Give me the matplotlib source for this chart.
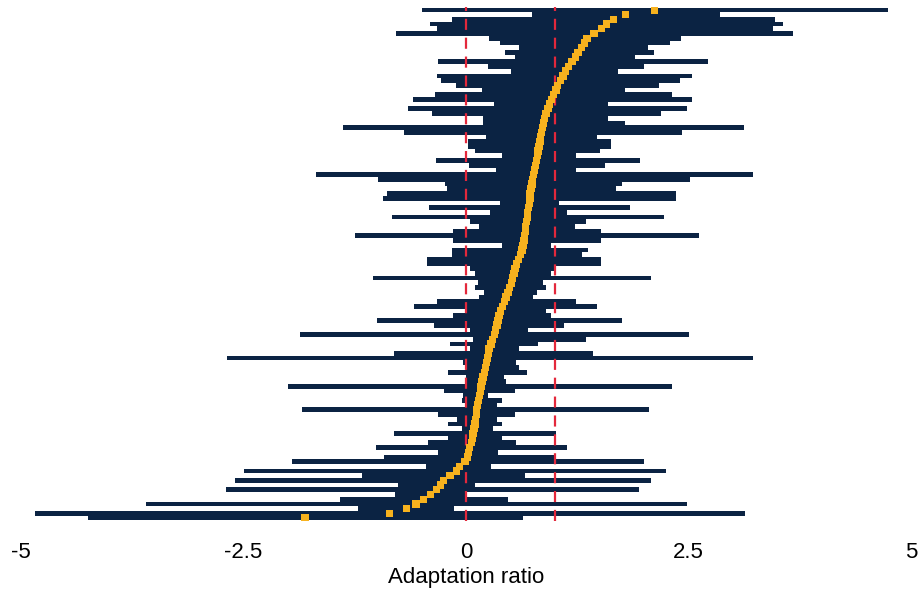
import matplotlib
matplotlib.use("Agg")
import matplotlib.pyplot as plt

plt.rcParams['font.family'] = ['Liberation Sans', 'DejaVu Sans']

# Rows ordered top -> bottom
estimate = [2.12, 1.79, 1.66, 1.58, 1.52, 1.44, 1.36, 1.33, 1.30, 1.26,
            1.23, 1.19, 1.15, 1.12, 1.09, 1.06, 1.03, 1.01, 0.98, 0.96,
            0.94, 0.92, 0.90, 0.88, 0.87, 0.86, 0.85, 0.84, 0.83, 0.82,
            0.81, 0.80, 0.79, 0.78, 0.77, 0.76, 0.75, 0.74, 0.73, 0.72,
            0.72, 0.71, 0.70, 0.69, 0.69, 0.68, 0.67, 0.67, 0.66, 0.65,
            0.64, 0.63, 0.61, 0.59, 0.57, 0.55, 0.54, 0.52, 0.51, 0.49,
            0.47, 0.45, 0.43, 0.41, 0.39, 0.37, 0.36, 0.35, 0.33, 0.32,
            0.30, 0.28, 0.26, 0.25, 0.24, 0.23, 0.22, 0.21, 0.19, 0.18,
            0.17, 0.16, 0.15, 0.14, 0.13, 0.12, 0.12, 0.11, 0.10, 0.09,
            0.08, 0.07, 0.06, 0.04, 0.03, 0.02, -0.01, -0.07, -0.11, -0.18,
            -0.25, -0.29, -0.33, -0.40, -0.48, -0.56, -0.67, -0.86, -1.81]

lower = [-0.49, 0.74, -0.16, -0.40, -0.33, -0.79, 0.26, 0.38, 0.60, 0.44,
         0.55, -0.32, 0.25, 0.50, -0.33, -0.28, -0.11, 0.18, -0.35, -0.59,
         0.32, -0.65, -0.38, 0.19, 0.19, -1.38, -0.70, 0.22, 0.02, 0.02,
         0.10, 0.41, -0.34, 0.03, 0.34, -1.68, -0.99, -0.24, -0.21, -0.89,
         -0.93, 0.38, -0.42, 0.27, -0.83, 0.05, 0.15, -0.15, -1.25, -0.15,
         0.41, -0.16, -0.16, -0.44, -0.44, 0.05, 0.10, -1.05, 0.13, 0.10,
         0.20, 0.15, -0.33, -0.58, 0.00, -0.15, -1.00, -0.36, 0.05, -1.86,
         0.08, -0.18, 0.05, -0.81, -2.69, -0.03, 0.00, -0.20, 0.00, 0.00,
         -2.00, -0.25, -0.03, -0.05, 0.00, -1.84, -0.32, -0.10, -0.20, -0.05,
         -0.81, -0.20, -0.43, -1.01, -0.32, -0.92, -1.96, -0.45, -2.49, -1.17,
         -2.59, -0.76, -2.70, -0.80, -1.42, -3.59, -1.21, -4.84, -4.25]

upper = [4.74, 2.85, 3.47, 3.56, 3.45, 3.67, 2.42, 2.29, 2.05, 2.11,
         1.90, 2.72, 2.00, 1.71, 2.54, 2.40, 2.17, 1.79, 2.32, 2.54,
         1.59, 2.48, 2.19, 1.59, 1.79, 3.12, 2.43, 1.47, 1.63, 1.63,
         1.50, 1.24, 1.96, 1.56, 1.24, 3.23, 2.52, 1.75, 1.68, 2.36,
         2.36, 1.05, 1.84, 1.14, 2.23, 1.35, 1.22, 1.52, 2.62, 1.52,
         0.96, 1.37, 1.30, 1.52, 1.52, 1.00, 0.95, 2.08, 0.86, 0.90,
         0.80, 0.75, 1.24, 1.47, 0.90, 0.95, 1.75, 1.10, 0.70, 2.50,
         1.35, 0.81, 0.60, 1.43, 3.23, 0.56, 0.59, 0.69, 0.43, 0.45,
         2.32, 0.55, 0.25, 0.40, 0.35, 2.06, 0.55, 0.35, 0.41, 0.30,
         1.01, 0.40, 0.56, 1.13, 0.36, 1.01, 2.00, 0.28, 2.25, 0.66,
         2.08, 0.10, 1.94, 0.00, 0.47, 2.48, -0.14, 3.13, 0.64]

ref_lines = [0, 1]
xticks = [-5, -2.5, 0, 2.5, 5]
xtick_labels = ['-5', '-2.5', '0', '2.5', '5']

n = len(estimate)
rows = list(range(n))

fig = plt.figure(figsize=(9.19, 5.94), dpi=100)
ax = fig.add_axes([21 / 919, 1 - 521 / 594, 890 / 919, 514 / 594])

widths = [u - l for l, u in zip(lower, upper)]
ax.barh(rows, widths, left=lower, height=1.0, color='#0b2343',
        edgecolor='none', zorder=1)
for r in ref_lines:
    ax.axvline(r, color='#e3283c', linestyle=(0, (5, 3.5)), linewidth=1.6, zorder=2)
ax.scatter(estimate, rows, marker='s', s=28, color='#f7b21e',
           edgecolors='none', zorder=3)

ax.set_xlim(-5, 5)
ax.set_ylim((521 - 10) / 4.704, (7 - 10) / 4.704)
ax.set_xticks(xticks)
ax.set_xticklabels(xtick_labels, fontsize=16)
ax.tick_params(axis='x', length=0, pad=15)
ax.set_yticks([])
for s in ax.spines.values():
    s.set_visible(False)
ax.set_xlabel('Adaptation ratio', fontsize=16, labelpad=3)

fig.savefig('out.png', dpi=100)
